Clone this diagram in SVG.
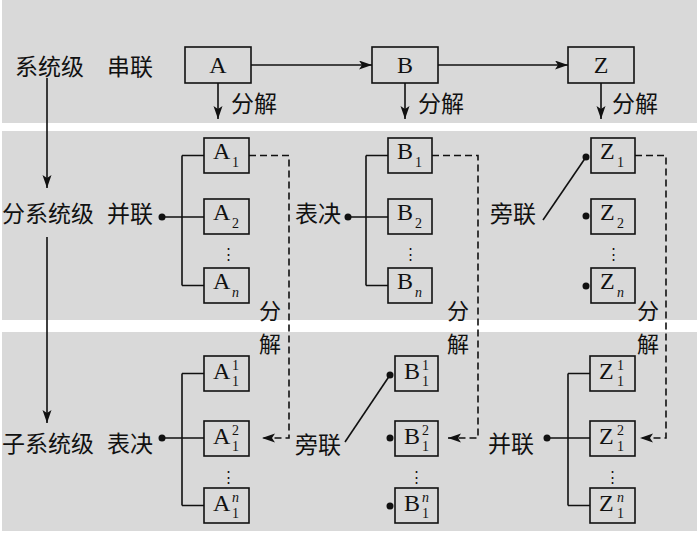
<svg xmlns="http://www.w3.org/2000/svg" width="700" height="533" viewBox="0 0 700 533">
<defs>
<style>
.band{fill:#d9d9d9}
.box{fill:none;stroke:#111;stroke-width:1.6}
.ln{fill:none;stroke:#111;stroke-width:1.6}
.dash{fill:none;stroke:#111;stroke-width:1.6;stroke-dasharray:7,4}
.cn{font-family:"Noto Sans CJK SC","Noto Sans CJK JP",sans-serif;font-size:23px;fill:#111;dominant-baseline:central}
.vc{font-family:"Noto Sans CJK SC","Noto Sans CJK JP",sans-serif;font-size:22px;fill:#111;dominant-baseline:central;text-anchor:middle}
.lt{font-family:"Liberation Serif","Times New Roman",serif;font-size:24px;fill:#111}
.sc{font-family:"Liberation Serif","Times New Roman",serif;font-size:14px;fill:#111}
.it{font-style:italic}
.dot{fill:#111}
.vd{font-family:"Liberation Serif",serif;font-size:15px;fill:#111;text-anchor:middle}
</style>
<marker id="ah" markerUnits="userSpaceOnUse" markerWidth="14" markerHeight="10" refX="13" refY="4.5" orient="auto">
<path d="M0,0 L13,4.5 L0,9 L3,4.5 z" fill="#111"/>
</marker>
</defs>
<rect width="700" height="533" fill="#fff"/>
<rect class="band" x="2" y="0" width="695" height="123"/>
<rect class="band" x="2" y="131" width="695" height="189"/>
<rect class="band" x="2" y="332" width="695" height="199"/>

<g id="connectors">
<line class="ln" x1="251" y1="65" x2="372" y2="65" marker-end="url(#ah)"/>
<line class="ln" x1="438" y1="65" x2="568" y2="65" marker-end="url(#ah)"/>
<line class="ln" x1="218" y1="83" x2="218" y2="119" marker-end="url(#ah)"/>
<line class="ln" x1="405" y1="83" x2="405" y2="119" marker-end="url(#ah)"/>
<line class="ln" x1="601" y1="83" x2="601" y2="119" marker-end="url(#ah)"/>
<line class="ln" x1="47" y1="78" x2="47" y2="188" marker-end="url(#ah)"/>
<line class="ln" x1="47" y1="237" x2="47" y2="423" marker-end="url(#ah)"/>
<path class="ln" d="M162,217 H204 M182,155.5 V285.5 M182,155.5 H204 M182,285.5 H204"/>
<circle class="dot" cx="162" cy="217" r="3.5"/>
<path class="ln" d="M348,217 H388 M366,155.5 V285.5 M366,155.5 H388 M366,285.5 H388"/>
<circle class="dot" cx="348" cy="217" r="3.5"/>
<line class="ln" x1="543" y1="220" x2="586" y2="157"/>
<circle class="dot" cx="586" cy="157" r="3.5"/>
<circle class="dot" cx="586" cy="216" r="3.5"/>
<circle class="dot" cx="586" cy="286" r="3.5"/>
<path class="ln" d="M162,438 H204 M182,373.5 V505.5 M182,373.5 H204 M182,505.5 H204"/>
<circle class="dot" cx="162" cy="438" r="3.5"/>
<line class="ln" x1="345" y1="442" x2="390" y2="375"/>
<circle class="dot" cx="390" cy="375" r="3.5"/>
<circle class="dot" cx="390" cy="438" r="3.5"/>
<circle class="dot" cx="390" cy="506" r="3.5"/>
<path class="ln" d="M547,438 H590 M568,373.5 V505.5 M568,373.5 H590 M568,505.5 H590"/>
<circle class="dot" cx="547" cy="438" r="3.5"/>
<path class="dash" d="M249,155.5 H289 V438 H262" marker-end="url(#ah)"/>
<path class="dash" d="M432,155.5 H478 V438 H448" marker-end="url(#ah)"/>
<path class="dash" d="M635,155.5 H666 V438 H640" marker-end="url(#ah)"/>
</g>

<g id="labels">
<text class="cn" x="15" y="65">系统级</text>
<text class="cn" x="107" y="65">串联</text>
<text class="cn" x="231" y="102">分解</text>
<text class="cn" x="418" y="102">分解</text>
<text class="cn" x="612" y="102">分解</text>
<text class="cn" x="2" y="212">分系统级</text>
<text class="cn" x="107" y="212">并联</text>
<text class="cn" x="295" y="212">表决</text>
<text class="cn" x="490" y="212">旁联</text>
<text class="cn" x="2" y="442">子系统级</text>
<text class="cn" x="107" y="442">表决</text>
<text class="cn" x="295" y="443">旁联</text>
<text class="cn" x="488" y="442">并联</text>
<text class="vc" x="270" y="309">分</text>
<text class="vc" x="270" y="342">解</text>
<text class="vc" x="458" y="309">分</text>
<text class="vc" x="458" y="342">解</text>
<text class="vc" x="648" y="309">分</text>
<text class="vc" x="648" y="342">解</text>
<text class="vd" x="228" y="259">⋮</text>
<text class="vd" x="410" y="259">⋮</text>
<text class="vd" x="613" y="259">⋮</text>
<text class="vd" x="228" y="482">⋮</text>
<text class="vd" x="416" y="482">⋮</text>
<text class="vd" x="612" y="482">⋮</text>
</g>

<g id="node-A"><rect class="box" x="185" y="47" width="66" height="36"/><text class="lt" x="218" y="73" text-anchor="middle">A</text></g>
<g id="node-B"><rect class="box" x="372" y="47" width="66" height="36"/><text class="lt" x="405" y="73" text-anchor="middle">B</text></g>
<g id="node-Z"><rect class="box" x="568" y="47" width="66" height="36"/><text class="lt" x="601" y="73" text-anchor="middle">Z</text></g>

<g id="node-A1"><rect class="box" x="204" y="138" width="45" height="35"/><text class="lt" x="213" y="159">A</text><text class="sc" x="232" y="167">1</text></g>
<g id="node-A2"><rect class="box" x="204" y="199" width="45" height="35"/><text class="lt" x="213" y="220">A</text><text class="sc" x="232" y="228">2</text></g>
<g id="node-An"><rect class="box" x="204" y="268" width="45" height="35"/><text class="lt" x="213" y="289">A</text><text class="sc it" x="232" y="297">n</text></g>

<g id="node-B1"><rect class="box" x="388" y="138" width="44" height="35"/><text class="lt" x="397" y="159">B</text><text class="sc" x="415" y="167">1</text></g>
<g id="node-B2"><rect class="box" x="388" y="199" width="44" height="35"/><text class="lt" x="397" y="220">B</text><text class="sc" x="415" y="228">2</text></g>
<g id="node-Bn"><rect class="box" x="388" y="268" width="44" height="35"/><text class="lt" x="397" y="289">B</text><text class="sc it" x="415" y="297">n</text></g>

<g id="node-Z1"><rect class="box" x="591" y="138" width="44" height="35"/><text class="lt" x="600" y="159">Z</text><text class="sc" x="617" y="167">1</text></g>
<g id="node-Z2"><rect class="box" x="591" y="199" width="44" height="35"/><text class="lt" x="600" y="220">Z</text><text class="sc" x="617" y="228">2</text></g>
<g id="node-Zn"><rect class="box" x="591" y="268" width="44" height="35"/><text class="lt" x="600" y="289">Z</text><text class="sc it" x="617" y="297">n</text></g>

<g id="node-A11"><rect class="box" x="204" y="356" width="45" height="35"/><text class="lt" x="213" y="379">A</text><text class="sc" x="232" y="370">1</text><text class="sc" x="232" y="386">1</text></g>
<g id="node-A12"><rect class="box" x="204" y="421" width="45" height="35"/><text class="lt" x="213" y="444">A</text><text class="sc" x="232" y="435">2</text><text class="sc" x="232" y="451">1</text></g>
<g id="node-A1n"><rect class="box" x="204" y="488" width="45" height="35"/><text class="lt" x="213" y="511">A</text><text class="sc it" x="232" y="502">n</text><text class="sc" x="232" y="518">1</text></g>

<g id="node-B11"><rect class="box" x="395" y="356" width="43" height="35"/><text class="lt" x="404" y="379">B</text><text class="sc" x="422" y="370">1</text><text class="sc" x="422" y="386">1</text></g>
<g id="node-B12"><rect class="box" x="395" y="421" width="43" height="35"/><text class="lt" x="404" y="444">B</text><text class="sc" x="422" y="435">2</text><text class="sc" x="422" y="451">1</text></g>
<g id="node-B1n"><rect class="box" x="395" y="488" width="43" height="35"/><text class="lt" x="404" y="511">B</text><text class="sc it" x="422" y="502">n</text><text class="sc" x="422" y="518">1</text></g>

<g id="node-Z11"><rect class="box" x="590" y="356" width="45" height="35"/><text class="lt" x="599" y="379">Z</text><text class="sc" x="617" y="370">1</text><text class="sc" x="617" y="386">1</text></g>
<g id="node-Z12"><rect class="box" x="590" y="421" width="45" height="35"/><text class="lt" x="599" y="444">Z</text><text class="sc" x="617" y="435">2</text><text class="sc" x="617" y="451">1</text></g>
<g id="node-Z1n"><rect class="box" x="590" y="488" width="45" height="35"/><text class="lt" x="599" y="511">Z</text><text class="sc it" x="617" y="502">n</text><text class="sc" x="617" y="518">1</text></g>
</svg>
